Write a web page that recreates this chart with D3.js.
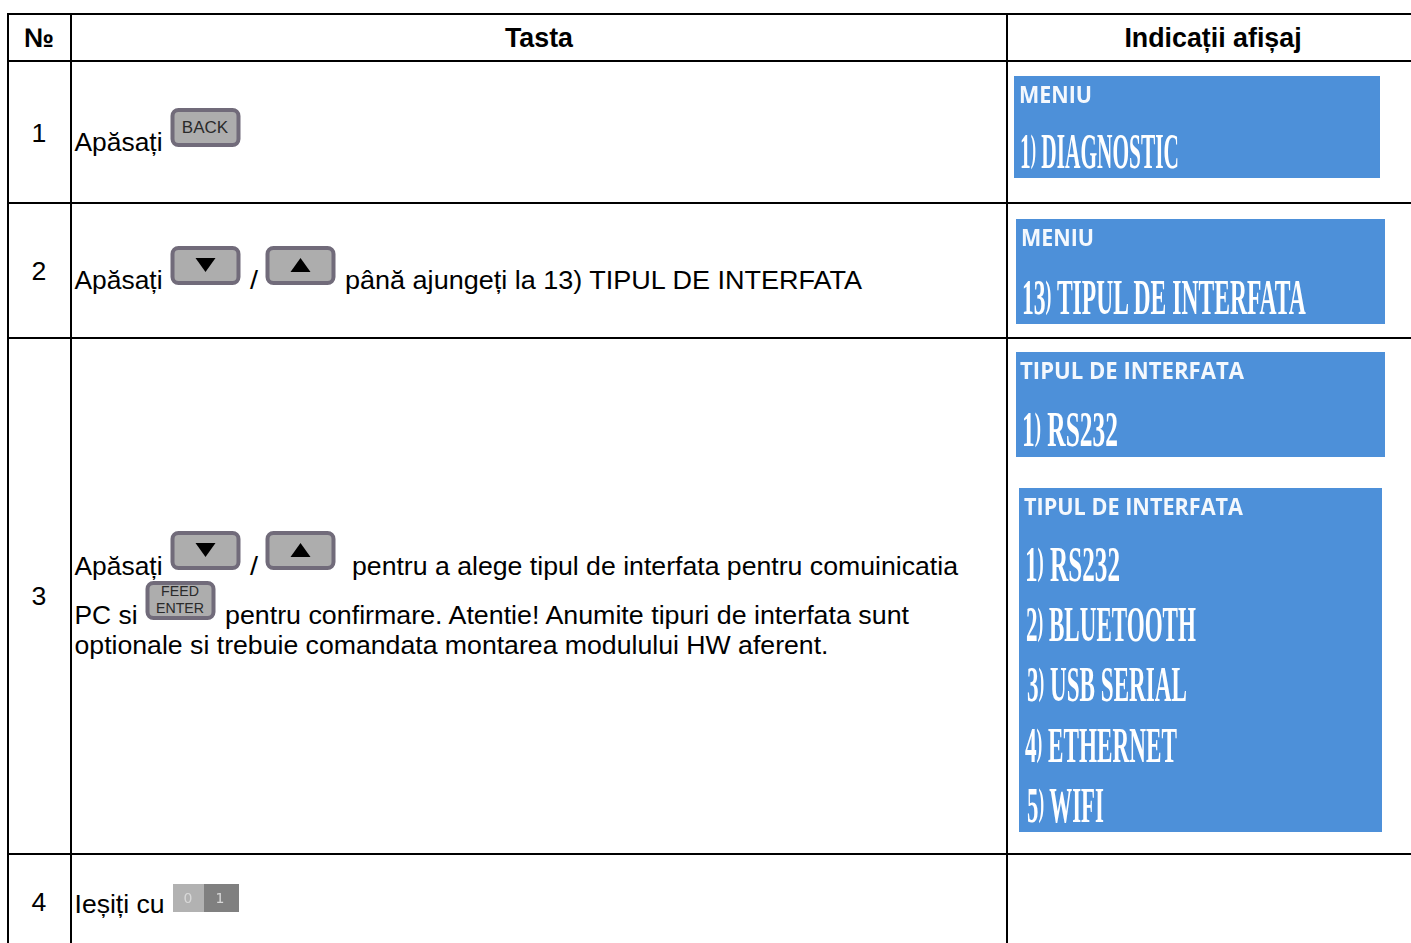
<!DOCTYPE html>
<html>
<head>
<meta charset="utf-8">
<script src="https://cdn.jsdelivr.net/npm/d3@7"></script>
<style>
  html, body { margin: 0; padding: 0; background: #fff; overflow: hidden; }
  svg { display: block; }
  text { font-family: "Liberation Sans", Arial, sans-serif; fill: #000; }
</style>
</head>
<body>
<div id="container"></div>
<script>
const headers = ['№', 'Tasta', 'Indicații afișaj'];
const rowNumbers = ['1', '2', '3', '4'];

const bodyLines = [
  'Apăsați',
  'Apăsați', '/', 'până ajungeți la 13) TIPUL DE INTERFATA',
  'Apăsați', '/', 'pentru a alege tipul de interfata pentru comuinicatia',
  'PC si', 'pentru confirmare. Atentie! Anumite tipuri de interfata sunt',
  'optionale si trebuie comandata montarea modulului HW aferent.',
  'Ieșiți cu'
];

const keyLabels = [['BACK'], ['▼'], ['▲'], ['▼'], ['▲'], ['FEED', 'ENTER']];
const exitLabels = ['0', '1'];

const panelTitles = ['MENIU', 'MENIU', 'TIPUL DE INTERFATA', 'TIPUL DE INTERFATA'];
const panelItems = [
  ['1) DIAGNOSTIC'],
  ['13) TIPUL DE INTERFATA'],
  ['1) RS232'],
  ['1) RS232', '2) BLUETOOTH', '3) USB SERIAL', '4) ETHERNET', '5) WIFI']
];

// layout
const width = 1411, height = 943;
const colEdges = [8, 71, 1007];
const rowEdges = [14, 61, 203, 338, 854];
const headerX = [39, 539, 1213];
const numberY = [142, 280, 605, 911];
// x, baseline, width
const bodyPos = [
  [74.5, 151, 88], [74.5, 289, 88], [250, 289, 8], [345, 289, 517], [74.5, 575, 88], [250, 575, 8], [352, 575, 606],
  [74.5, 624, 63], [225, 624, 684], [74.5, 654, 754], [74.5, 913, 90]
];
const keyPos = [[170.5, 108], [170.5, 246], [265.5, 246], [170.5, 531], [265.5, 531], [145.5, 581]];
const panelBox = [[1014, 76, 366, 102], [1016, 219, 369, 105], [1016, 352, 369, 105], [1019, 488, 363, 344]];
const titleWidth = [[1019, 103, 73], [1021, 246, 73], [1020, 379, 224], [1024, 515, 219]];
const itemPos = [
  [[1020, 168, 159]],
  [[1022, 314, 284]],
  [[1022, 446, 96]],
  [[1025, 581, 95], [1026, 641, 170], [1027, 701, 160], [1025, 762, 152], [1027, 822, 77]]
];

const svg = d3.select('#container').append('svg')
  .attr('width', width)
  .attr('height', height);

const defs = svg.append('defs');
defs.append('filter').attr('id', 'soft')
  .append('feGaussianBlur').attr('stdDeviation', 0.45);

// grid
svg.append('g').selectAll('line')
  .data(rowEdges)
  .enter().append('line')
  .attr('x1', colEdges[0] - 1).attr('x2', width)
  .attr('y1', d => d).attr('y2', d => d)
  .style('stroke', '#000').style('stroke-width', 2);

svg.append('g').selectAll('line')
  .data(colEdges)
  .enter().append('line')
  .attr('x1', d => d).attr('x2', d => d)
  .attr('y1', rowEdges[0]).attr('y2', height)
  .style('stroke', '#000').style('stroke-width', 2);

svg.append('g').selectAll('text')
  .data(headers)
  .enter().append('text')
  .attr('x', (d, i) => headerX[i])
  .attr('y', 47)
  .attr('text-anchor', 'middle')
  .style('font-size', '26.8px')
  .style('font-weight', 'bold')
  .text(d => d);

svg.append('g').selectAll('text')
  .data(rowNumbers)
  .enter().append('text')
  .attr('x', 39)
  .attr('y', (d, i) => numberY[i])
  .attr('text-anchor', 'middle')
  .style('font-size', '26.67px')
  .text(d => d);

svg.append('g').selectAll('text')
  .data(bodyLines)
  .enter().append('text')
  .attr('x', (d, i) => bodyPos[i][0])
  .attr('y', (d, i) => bodyPos[i][1])
  .attr('textLength', (d, i) => bodyPos[i][2])
  .attr('lengthAdjust', 'spacingAndGlyphs')
  .style('font-size', '26.67px')
  .text(d => d);

// keypad buttons
const keys = svg.append('g').selectAll('g')
  .data(keyLabels)
  .enter().append('g')
  .attr('transform', (d, i) => `translate(${keyPos[i][0]} ${keyPos[i][1]})`);

keys.append('rect')
  .attr('x', 2).attr('y', 2)
  .attr('width', 66).attr('height', 35)
  .attr('rx', 6)
  .style('fill', '#adadad')
  .style('stroke', '#716b7a')
  .style('stroke-width', 4);

keys.each(function (d) {
  const key = d3.select(this);
  if (d[0] === '▼' || d[0] === '▲') {
    const pts = d[0] === '▼' ? [[25, 12], [45, 12], [35, 26]] : [[25, 26], [45, 26], [35, 12]];
    key.append('path').attr('d', d3.line()(pts) + 'Z').style('fill', '#000');
  } else if (d.length === 1) {
    key.append('text').attr('x', 34.5).attr('y', 25)
      .attr('text-anchor', 'middle').style('font-size', '17px').style('fill', '#2a2a2a').text(d[0]);
  } else {
    key.selectAll('text').data(d).enter().append('text')
      .attr('x', 34.5).attr('y', (t, i) => 14.5 + i * 17)
      .attr('text-anchor', 'middle').style('font-size', '14.2px').style('fill', '#2a2a2a').text(t => t);
  }
});

// 0/1 switch in the last row
const exitKey = svg.append('g').attr('filter', 'url(#soft)');
exitKey.selectAll('rect')
  .data(exitLabels)
  .enter().append('rect')
  .attr('x', (d, i) => 173 + i * 31)
  .attr('y', 884)
  .attr('width', (d, i) => i ? 35 : 31)
  .attr('height', 28)
  .style('fill', (d, i) => i ? '#808080' : '#b2b2b2');
exitKey.selectAll('text')
  .data(exitLabels)
  .enter().append('text')
  .attr('x', (d, i) => 188 + i * 32)
  .attr('y', 903)
  .attr('text-anchor', 'middle')
  .style('font-size', '14px')
  .style('font-family', '"DejaVu Sans"')
  .style('fill', '#d8d8d8')
  .text(d => d);

// blue display panels
const panels = svg.append('g').selectAll('g')
  .data(panelTitles)
  .enter().append('g')
  .attr('filter', 'url(#soft)');

panels.append('rect')
  .attr('x', (d, i) => panelBox[i][0])
  .attr('y', (d, i) => panelBox[i][1])
  .attr('width', (d, i) => panelBox[i][2])
  .attr('height', (d, i) => panelBox[i][3])
  .style('fill', '#4d90d9');

panels.append('text')
  .attr('x', (d, i) => titleWidth[i][0])
  .attr('y', (d, i) => titleWidth[i][1])
  .attr('textLength', (d, i) => titleWidth[i][2])
  .attr('lengthAdjust', 'spacingAndGlyphs')
  .style('font-family', '"Open Sans"')
  .style('font-size', '23px')
  .style('font-weight', 'bold')
  .style('fill', '#f4f8fd')
  .text(d => d);

// condensed lines: squeeze each one to its width with a scale, not textLength
panels.each(function (d, i) {
  d3.select(this).selectAll('text.item')
    .data(panelItems[i])
    .enter().append('text')
    .attr('class', 'item')
    .style('font-family', '"Liberation Serif"')
    .style('font-size', '50px')
    .style('font-weight', 'bold')
    .style('fill', '#fff')
    .each(function (t) {
      // the bracket is kept to cap height, like the display font
      const cut = t.indexOf(')');
      const line = d3.select(this);
      line.append('tspan').text(t.slice(0, cut));
      line.append('tspan').attr('dy', -7).style('font-size', '37px').text(')');
      line.append('tspan').attr('dy', 7).text(t.slice(cut + 1));
    })
    .attr('transform', function (t, j) {
      const [x, y, w] = itemPos[i][j];
      return `translate(${x} ${y}) scale(${w / this.getComputedTextLength()} 1)`;
    });
});
</script>
</body>
</html>
